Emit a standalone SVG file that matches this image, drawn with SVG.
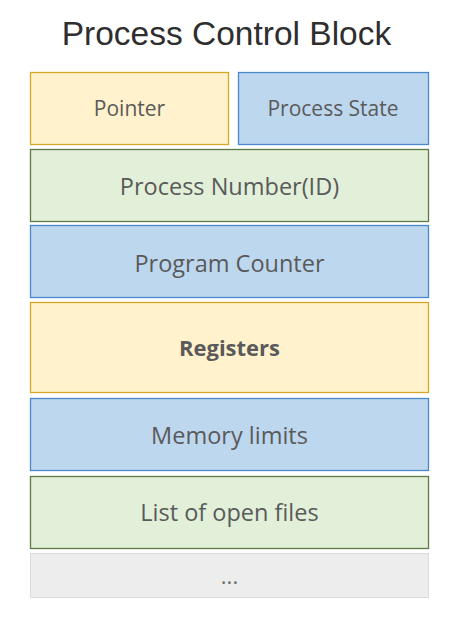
<svg xmlns="http://www.w3.org/2000/svg" width="461" height="620" viewBox="0 0 461 620">
<style>
.t{font-family:"Open Sans","Noto Sans",sans-serif;font-size:23.5px;fill:#5a5a5a;text-anchor:middle}
.s{font-size:21px}
.r{font-size:22px;font-weight:bold}
.d{font-size:22px;fill:#6e6e6e}
.y{fill:#fff2cc;stroke:#d6a726;stroke-width:1.3}
.b{fill:#bdd7ee;stroke:#4a88cc;stroke-width:1.3}
.g{fill:#e2efd9;stroke:#5c7b45;stroke-width:1.3}
.e{fill:#ededed;stroke:#dadada;stroke-width:1}
</style>
<rect width="461" height="620" fill="#ffffff"/>
<text x="226.5" y="45" font-family="Liberation Sans,Arial,sans-serif" font-size="33.5" fill="#2e2e2e" text-anchor="middle">Process Control Block</text>
<g id="pointer"><rect class="y" x="30.5" y="72.5" width="198" height="72"/><text class="t s" x="129.5" y="116">Pointer</text></g>
<g id="state"><rect class="b" x="238.5" y="72.5" width="190" height="72"/><text class="t s" x="333" y="116">Process State</text></g>
<g id="pid"><rect class="g" x="30.5" y="149.5" width="398" height="72"/><text class="t" x="229.5" y="194.5">Process Number(ID)</text></g>
<g id="pc"><rect class="b" x="30.5" y="225.5" width="398" height="72"/><text class="t" x="229.5" y="272">Program Counter</text></g>
<g id="registers"><rect class="y" x="30.5" y="302.5" width="398" height="90"/><text class="t r" x="229.5" y="356">Registers</text></g>
<g id="memory"><rect class="b" x="30.5" y="398.5" width="398" height="72"/><text class="t" x="229.5" y="443.5">Memory limits</text></g>
<g id="files"><rect class="g" x="30.5" y="476.5" width="398" height="72"/><text class="t" x="229.5" y="520.5">List of open files</text></g>
<g id="more"><rect class="e" x="30.5" y="553.5" width="398" height="44"/><text class="t d" x="229.5" y="584">...</text></g>
<g id="connectors"/>
</svg>
